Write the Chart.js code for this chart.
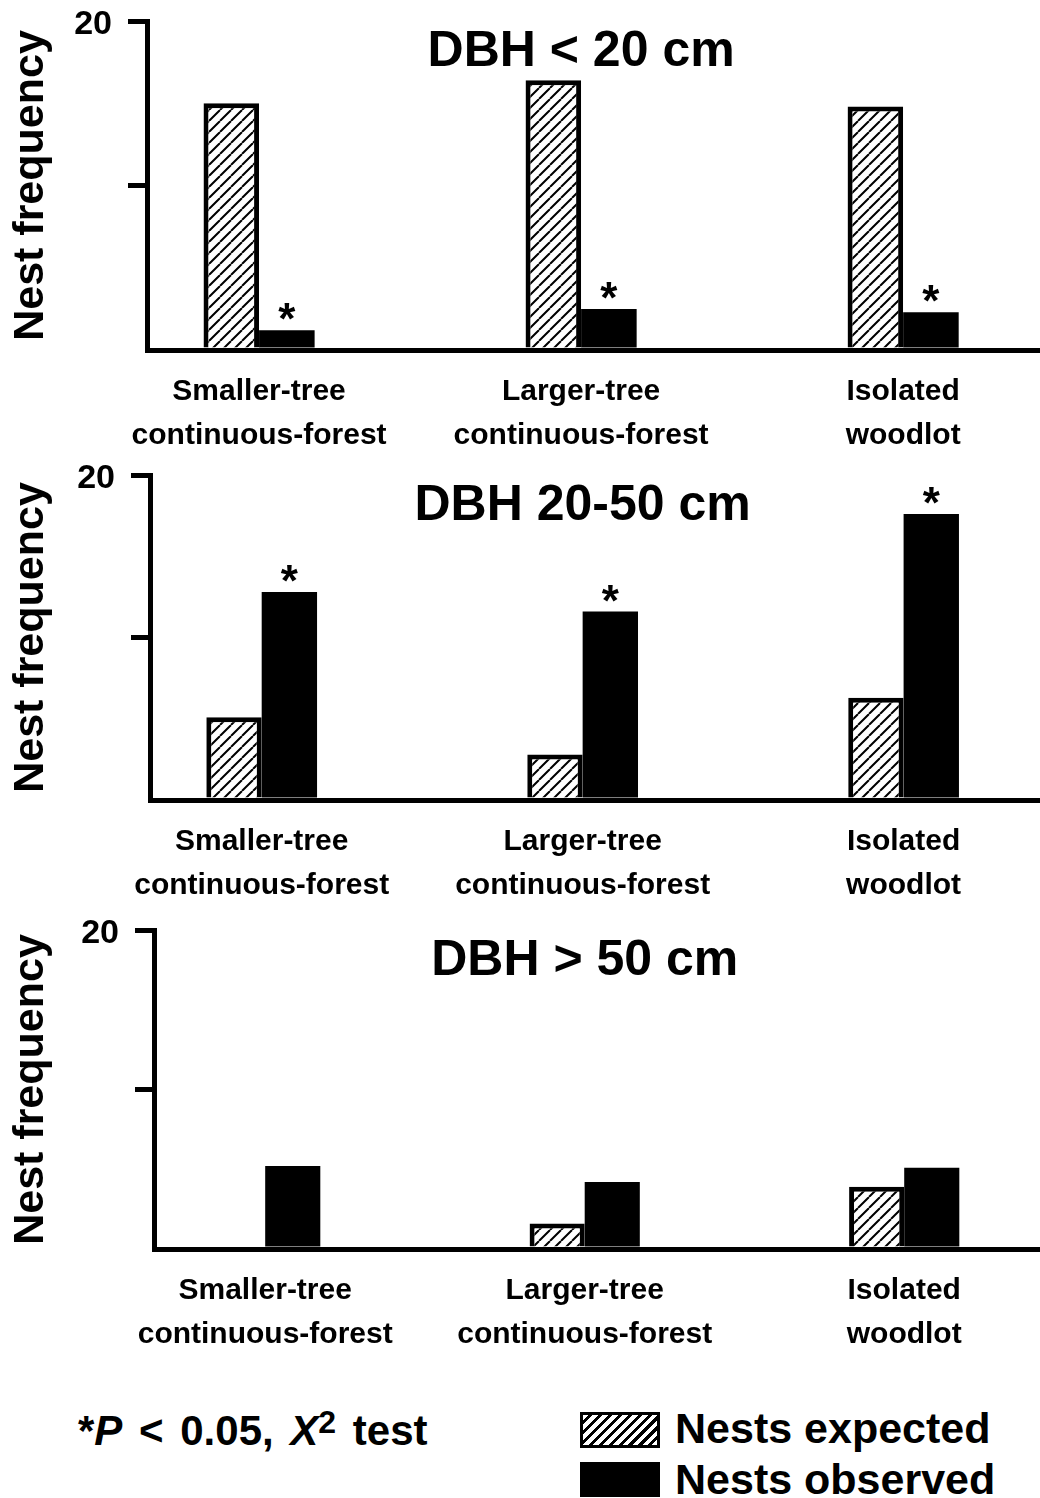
<!DOCTYPE html>
<html>
<head>
<meta charset="utf-8">
<script src="https://cdn.jsdelivr.net/npm/chart.js@4.4.1/dist/chart.umd.min.js"></script>
<style>
  html, body { margin: 0; padding: 0; background: #fff; }
  body { width: 1040px; height: 1498px; position: relative; overflow: hidden;
         font-family: "Liberation Sans", Arial, sans-serif; color: #000; }
  canvas { position: absolute; left: 0; }
  .txt { position: absolute; font-weight: bold; white-space: nowrap; line-height: 1; }
  .sw { position: absolute; left: 580px; width: 80px; box-sizing: border-box; }
  .sw.hatch { top: 1412px; height: 36px; border: 3px solid #000;
              background: repeating-linear-gradient(135deg, #fff 0 4px, #000 4px 7px); }
  .sw.solid { top: 1462px; height: 35px; background: #000; }
</style>
</head>
<body>
<canvas id="c1" width="1040" height="455"></canvas>
<canvas id="c2" width="1040" height="455"></canvas>
<canvas id="c3" width="1040" height="460"></canvas>

<div class="txt" style="left:78px; top:1406px; font-size:42px; word-spacing:5px;">*<i>P</i> &lt; 0.05, <i>X</i><sup style="font-size:32px; vertical-align:12px;">2</sup> test</div>
<div class="sw hatch"></div>
<div class="sw solid"></div>
<div class="txt" style="left:675px; top:1407px; font-size:43px;">Nests expected</div>
<div class="txt" style="left:675px; top:1458px; font-size:43px;">Nests observed</div>

<script>
// data
const categories = [
  ["Smaller-tree", "continuous-forest"],
  ["Larger-tree", "continuous-forest"],
  ["Isolated", "woodlot"]
];
const panelTitles = ["DBH < 20 cm", "DBH 20-50 cm", "DBH > 50 cm"];

const expectedSmall = [15.0, 16.4, 14.8];
const observedSmall = [1.2, 2.5, 2.3];
const sigSmall = [true, true, true];

const expectedMid = [5.1, 2.8, 6.3];
const observedMid = [12.8, 11.6, 17.6];
const sigMid = [true, true, true];

const expectedLarge = [0, 1.6, 3.9];
const observedLarge = [5.2, 4.2, 5.1];
const sigLarge = [false, false, false];

const yTicks = [0, 10, 20];
const yTickLabels = { 20: "20" };

// layout of the three panels (page pixels)
const panels = [
  { id: "c1", top: 0,   height: 455, axisX: 147, topY: 21,  zeroY: 350,  exp: expectedSmall, obs: observedSmall, sig: sigSmall, title: panelTitles[0] },
  { id: "c2", top: 450, height: 455, axisX: 150, topY: 475, zeroY: 800,  exp: expectedMid,   obs: observedMid,   sig: sigMid,   title: panelTitles[1] },
  { id: "c3", top: 900, height: 460, axisX: 154, topY: 930, zeroY: 1249, exp: expectedLarge, obs: observedLarge, sig: sigLarge, title: panelTitles[2] }
];

const font = '"Liberation Sans", Arial, sans-serif';

function hatchPattern() {
  const s = 11;
  const c = document.createElement("canvas");
  c.width = s; c.height = s;
  const g = c.getContext("2d");
  g.fillStyle = "#fff";
  g.fillRect(0, 0, s, s);
  g.strokeStyle = "#000";
  g.lineWidth = 2;
  g.beginPath();
  for (const k of [-s, 0, s]) {
    g.moveTo(k, s);
    g.lineTo(k + s, 0);
  }
  g.stroke();
  return g.createPattern(c, "repeat");
}

// asterisks and panel title, placed with the chart's own scales
const marks = {
  id: "marks",
  afterDatasetsDraw(chart, args, opts) {
    const c = chart.ctx;
    const meta = chart.getDatasetMeta(1);
    c.save();
    c.fillStyle = "#000";
    c.textAlign = "center";
    c.textBaseline = "alphabetic";
    c.font = "bold 44px " + font;
    meta.data.forEach((bar, i) => {
      if (opts.sig[i]) c.fillText("*", bar.x, bar.y + 4);
    });
    c.font = "bold 50px " + font;
    c.fillText(opts.title, chart.scales.x.getPixelForValue(2), chart.chartArea.top + 45);
    c.restore();
  }
};

panels.forEach((p) => {
  const cv = document.getElementById(p.id);
  cv.style.top = p.top + "px";

  new Chart(cv.getContext("2d"), {
    type: "bar",
    data: {
      datasets: [
        {
          label: "Nests expected",
          data: p.exp.map((v, i) => ({ x: i + 1, y: v })),
          backgroundColor: hatchPattern(),
          borderColor: "#000",
          borderWidth: 5
        },
        {
          label: "Nests observed",
          data: p.obs.map((v, i) => ({ x: i + 1, y: v })),
          backgroundColor: "#000",
          borderWidth: 0
        }
      ]
    },
    options: {
      responsive: false,
      animation: false,
      events: [],
      layout: { padding: { top: p.topY - p.top, left: 0, right: 0, bottom: 0 } },
      datasets: { bar: { barPercentage: 1, categoryPercentage: 0.345 } },
      plugins: {
        legend: { display: false },
        tooltip: { enabled: false },
        marks: { sig: p.sig, title: p.title }
      },
      scales: {
        x: {
          type: "linear",
          min: 0.652,
          max: 3.425,
          offset: false,
          afterBuildTicks: (s) => { s.ticks = categories.map((c, i) => ({ value: i + 1 })); },
          afterFit: (s) => {
            s.height = p.height - (p.zeroY - p.top);
            s.paddingLeft = 0;
            s.paddingRight = 0;
          },
          grid: { display: false },
          border: { display: true, width: 5, color: "#000" },
          ticks: {
            color: "#000",
            autoSkip: false,
            maxRotation: 0,
            padding: 12,
            font: { family: font, size: 30, weight: "bold", lineHeight: 1.45 },
            callback: (v) => categories[v - 1] || ""
          }
        },
        y: {
          min: 0,
          max: 20,
          afterBuildTicks: (s) => { s.ticks = yTicks.map((v) => ({ value: v })); },
          afterFit: (s) => {
            s.width = p.axisX;
            s.paddingTop = 0;
            s.paddingBottom = 0;
          },
          grid: {
            drawOnChartArea: false,
            drawTicks: true,
            tickLength: 19,
            lineWidth: 5,
            color: (ctx) => (ctx.tick && ctx.tick.value === 0 ? "rgba(0,0,0,0)" : "#000")
          },
          border: { display: true, width: 5, color: "#000" },
          ticks: {
            color: "#000",
            padding: 16,
            labelOffset: 4,
            font: { family: font, size: 34, weight: "bold" },
            callback: (v) => yTickLabels[v] || ""
          },
          title: {
            display: true,
            text: "Nest frequency",
            color: "#000",
            font: { family: font, size: 43, weight: "bold" },
            padding: { top: 5, bottom: 0 }
          }
        }
      }
    },
    plugins: [marks]
  });
});
</script>
</body>
</html>
